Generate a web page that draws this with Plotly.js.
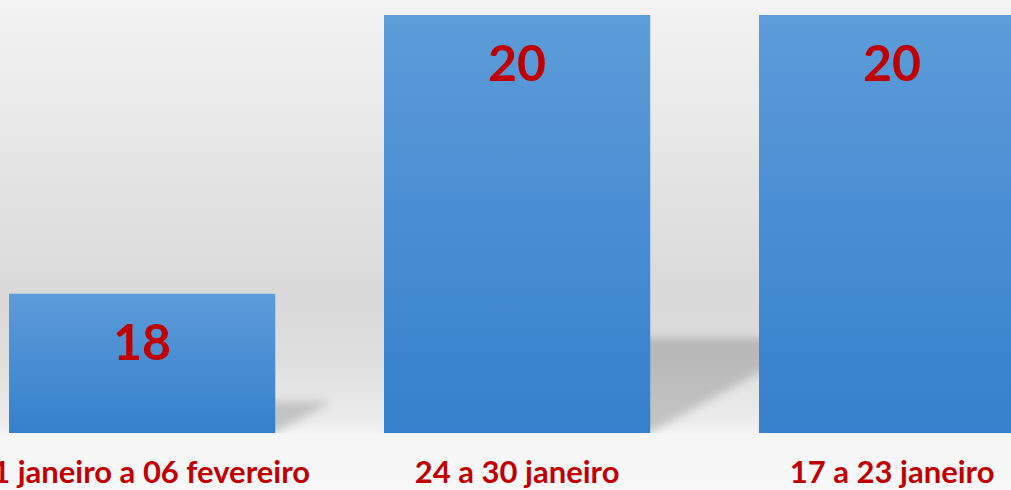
<!DOCTYPE html>
<html>
<head>
<meta charset="utf-8">
<script src="https://cdn.plot.ly/plotly-3.0.1.min.js"></script>
<style>
  html, body { margin: 0; padding: 0; }
  body {
    width: 1011px; height: 490px; overflow: hidden;
    background: linear-gradient(to bottom, #f3f3f3 0%, #e4e4e4 35%, #d9d9d9 60%, #dddddd 72%, #ececec 86%, #f6f6f6 89%, #f8f8f8 100%);
  }
  #chart { width: 1011px; height: 490px; }
</style>
</head>
<body>
<div id="chart"></div>
<script>
// ---- data ----
var categories = ["31 janeiro a 06 fevereiro", "24 a 30 janeiro", "17 a 23 janeiro"];
var values = [18, 20, 20];
var axisMin = 17;
var axisMax = 20;

// ---- layout helpers ----
var positions = categories.map(function (c, i) { return i; });
var barWidth = 0.71;
var red = '#c00000';
var fontFam = 'Lato, "Open Sans", sans-serif';

// perspective drop shadows derived from the bar values
var shadows = values.map(function (v, i) {
  var h = v - axisMin;
  var hs = 0.227 * h;        // projected shadow height (data units)
  var dx = hs * 0.668;       // horizontal skew (x units)
  var x0 = positions[i] - barWidth / 2, x1 = positions[i] + barWidth / 2;
  return {
    type: 'path', xref: 'x', yref: 'y', layer: 'below',
    path: 'M ' + x0 + ',' + axisMin + ' L ' + x1 + ',' + axisMin +
          ' L ' + (x1 + dx) + ',' + (axisMin + hs) + ' L ' + (x0 + dx) + ',' + (axisMin + hs) + ' Z',
    fillcolor: 'rgba(0,0,0,0.17)', line: { width: 0 }
  };
});

var annotations = values.map(function (v, i) {
  return {
    x: positions[i], y: v, xref: 'x', yref: 'y',
    text: String(v), showarrow: false, yanchor: 'middle', yshift: -47,
    font: { family: fontFam, size: 50, color: red, weight: 700 }
  };
});

var trace = {
  type: 'bar',
  x: positions,
  y: values.map(function (v) { return v - axisMin; }),
  base: axisMin,
  width: barWidth,
  marker: { color: '#4a8fd2', line: { width: 0 } },
  hoverinfo: 'none'
};

var layout = {
  width: 1011, height: 490,
  margin: { l: 0, r: 0, t: 15, b: 57 },
  paper_bgcolor: 'rgba(0,0,0,0)',
  plot_bgcolor: 'rgba(0,0,0,0)',
  showlegend: false,
  xaxis: {
    type: 'linear',
    range: [-0.379, 2.317],
    tickvals: positions, ticktext: categories,
    showgrid: false, zeroline: false, showline: false, ticks: '',
    ticklabelstandoff: 18,
    ticklabeloverflow: 'allow',
    tickfont: { family: fontFam, size: 31, color: red, weight: 700 }
  },
  yaxis: {
    range: [axisMin, axisMax],
    visible: false, showgrid: false, zeroline: false
  },
  shapes: shadows,
  annotations: annotations
};

function decorate(gd) {
  var svg = gd.querySelector('.main-svg');
  var ns = 'http://www.w3.org/2000/svg';
  if (!document.getElementById('barGrad')) {
    var defs = document.createElementNS(ns, 'defs');
    defs.innerHTML =
      '<linearGradient id="barGrad" x1="0" y1="0" x2="0" y2="1">' +
      '<stop offset="0" stop-color="#5c9cd9"/><stop offset="1" stop-color="#3580cc"/></linearGradient>' +
      '<filter id="shBlur" x="-50%" y="-50%" width="200%" height="200%">' +
      '<feGaussianBlur stdDeviation="5"/></filter>';
    svg.insertBefore(defs, svg.firstChild);
  }
  gd.querySelectorAll('.bars .point path').forEach(function (p) { p.style.fill = 'url(#barGrad)'; });
  gd.querySelectorAll('.shapelayer path').forEach(function (p) { p.style.filter = 'url(#shBlur)'; });
}

Plotly.newPlot('chart', [trace], layout, { staticPlot: true, displayModeBar: false })
  .then(function (gd) { decorate(gd); });
</script>
</body>
</html>
